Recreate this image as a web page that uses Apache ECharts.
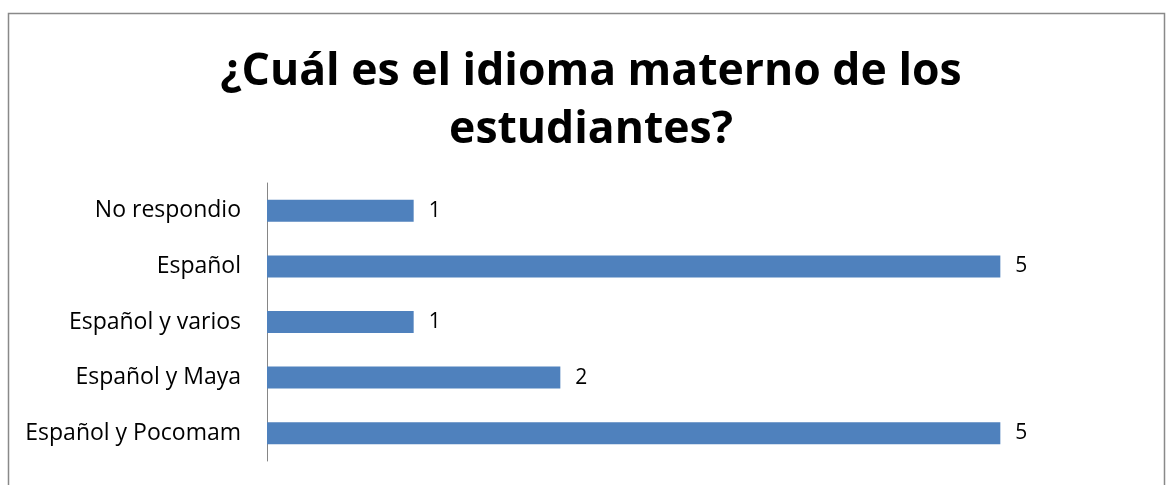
<!DOCTYPE html>
<html><head><meta charset="utf-8">
<script src="https://cdn.jsdelivr.net/npm/echarts@6/dist/echarts.min.js"></script>
<style>html,body{margin:0;padding:0;background:#fff}#c{width:1170px;height:485px}</style>
</head><body><div id="c"></div>
<script>
const titleText = "¿Cuál es el idioma materno de los\nestudiantes?";
const categories = ["Español y Pocomam", "Español y Maya", "Español y varios", "Español", "No respondio"];
const values = [5, 2, 1, 5, 1];

const chart = echarts.init(document.getElementById('c'));
chart.setOption({
  animation: false,
  backgroundColor: '#fff',
  graphic: [{
    type: 'rect', shape: {x: 8.5, y: 13.5, width: 1156, height: 490},
    style: {fill: 'none', stroke: '#898989', lineWidth: 1.5}, silent: true
  }],
  title: {
    text: titleText, left: 586, top: 38, textAlign: 'center',
    textStyle: {fontFamily: 'Open Sans', fontWeight: 'bold', fontSize: 44.5, lineHeight: 58, color: '#000'}
  },
  grid: {left: 267, right: 23, top: 183, bottom: 24, containLabel: false},
  xAxis: {type: 'value', min: 0, max: 6, show: false},
  yAxis: {
    type: 'category', data: categories,
    axisLine: {show: true, lineStyle: {color: '#868686', width: 1}},
    axisTick: {show: false},
    axisLabel: {fontFamily: 'Open Sans', fontSize: 23, color: '#000', margin: 26}
  },
  series: [{
    type: 'bar', data: values, barWidth: 22,
    itemStyle: {color: '#4F81BD'},
    label: {show: true, position: 'right', distance: 15, fontFamily: 'Open Sans', fontSize: 21, color: '#000'}
  }]
});
</script></body></html>
